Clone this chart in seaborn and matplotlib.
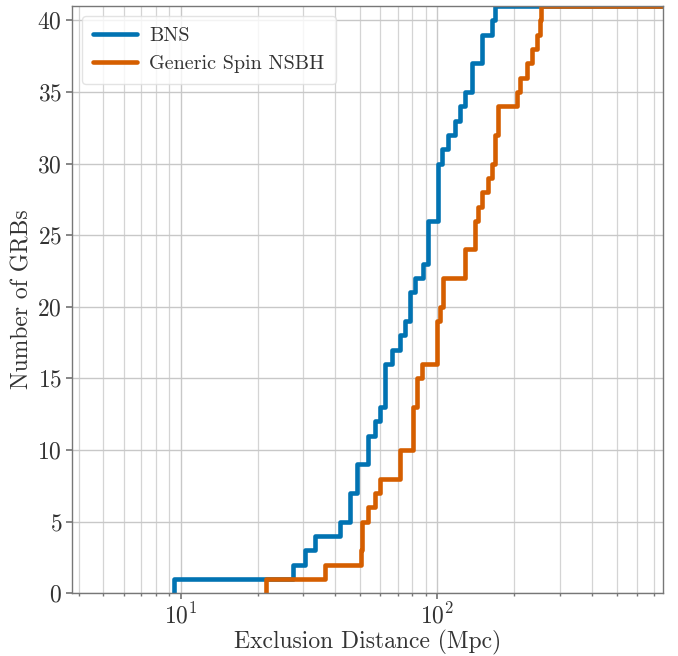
"""
Cumulative exclusion distances for the GRB sample, BNS vs generic spin NSBH
"""

import numpy as np
import pandas as pd
import matplotlib
matplotlib.use("Agg")
import matplotlib.pyplot as plt
import seaborn as sns

# exclusion distances in Mpc, one per GRB
bns_distance = [
    9.44, 27.5, 30.5, 33.4, 41.8, 45.7, 45.7, 48.6, 48.6, 53.9, 53.9,
    57.2, 59.8, 62.6, 62.6, 62.6, 66.5, 71.6, 74.9, 78.3, 78.3, 81.9,
    88.3, 92.3, 92.3, 92.3, 101.0, 101.0, 101.0, 101.0, 104.5, 110.5,
    117.3, 122.7, 128.3, 136.3, 136.3, 149.1, 149.1, 163.2, 168.1,
]
nsbh_distance = [
    21.5, 36.5, 50.6, 50.8, 51.0, 53.9, 57.2, 59.8, 71.6, 71.6, 80.7,
    80.7, 80.7, 83.6, 83.6, 87.0, 99.5, 99.5, 99.5, 102.6, 105.3, 105.3,
    128.3, 128.3, 140.4, 140.4, 144.6, 149.1, 158.2, 163.2, 168.0, 168.0,
    173.0, 173.0, 204.0, 210.0, 223.0, 233.5, 244.0, 251.0, 253.0,
]
series_labels = ["BNS", "Generic Spin NSBH"]
series_colors = ["#0173B2", "#D55E00"]

x_limits = (3.76, 759)
y_ticks = np.arange(0, 41, 5)


def cumulative_steps(distances, label, x_end):
    """Build the step path: up from zero at the first GRB, flat to the edge at the end."""
    d = np.sort(np.asarray(distances, dtype=float))
    n = len(d)
    x = np.r_[d[0], d, x_end]
    y = np.r_[0, np.arange(1, n + 1), n]
    return pd.DataFrame({"distance": x, "count": y, "population": label})


sns.set_theme(style="ticks")
plt.rcParams["font.family"] = ["serif"]
plt.rcParams["font.serif"] = ["cmr10", "DejaVu Serif"]
plt.rcParams["mathtext.fontset"] = "cm"
plt.rcParams["axes.formatter.use_mathtext"] = True

df = pd.concat([
    cumulative_steps(bns_distance, series_labels[0], 1e4),
    cumulative_steps(nsbh_distance, series_labels[1], 1e4),
], ignore_index=True)
n_grb = len(bns_distance)

fig = plt.figure(figsize=(6.78, 6.56), dpi=100)
ax = fig.add_axes([0.1058, 0.0956, 0.8722, 0.8953])

sns.lineplot(data=df, x="distance", y="count", hue="population",
             hue_order=series_labels, palette=series_colors,
             estimator=None, sort=False, drawstyle="steps-post",
             lw=3.3, legend=False, ax=ax)

ax.set_xscale("log")
ax.set_xlim(*x_limits)
ax.set_ylim(0, n_grb)
ax.set_yticks(y_ticks)

ax.grid(True, which="major", color="#c8c8c8", lw=1.0)
ax.grid(True, which="minor", axis="x", color="#d4d4d4", lw=0.9)
ax.set_axisbelow(True)

for spine in ax.spines.values():
    spine.set_color("#777777")
    spine.set_linewidth(1.0)
ax.tick_params(axis="both", which="major", labelsize=17, length=4,
               color="#777777", labelcolor="#333333", pad=3)
ax.tick_params(axis="x", which="minor", length=2.5, color="#777777")

ax.set_xlabel("Exclusion Distance (Mpc)", fontsize=17, color="#333333",
              labelpad=1)
ax.set_ylabel("Number of GRBs", fontsize=17, color="#333333", labelpad=3)

ax.legend(ax.lines[:2], series_labels, loc="upper left", fontsize=14.5,
          handlelength=2.2, handletextpad=0.6, framealpha=0.8,
          edgecolor="#dddddd", borderpad=0.55, labelcolor="#333333")

fig.savefig("out.png", dpi=100)
